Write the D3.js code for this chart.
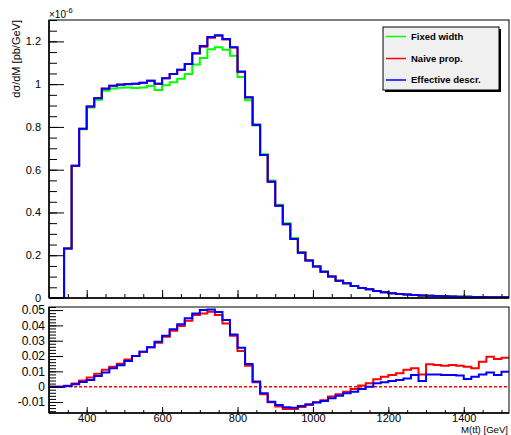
<!DOCTYPE html>
<html>
<head>
<meta charset="utf-8">
<script src="https://cdn.jsdelivr.net/npm/d3@7"></script>
<style>
  html, body { margin: 0; padding: 0; background: #fff; }
  svg { display: block; }
  text { font-family: "Liberation Sans", Arial, Helvetica, sans-serif; fill: #000; }
</style>
</head>
<body>
<svg id="chart" width="511" height="435"></svg>
<script>
// ---------- DATA ----------
const binStart = 300;
const binWidth = 20;           // GeV
// bin lower edges: 300, 320, ..., 1500 (61 bins)
const fixedWidth = [0,0,0.231,0.617,0.789,0.891,0.927,0.969,0.980,0.983,
  0.984,0.982,0.984,0.991,0.973,0.995,1.009,1.025,1.047,1.092,
  1.122,1.163,1.173,1.161,1.133,1.033,0.925,0.807,0.672,0.549,
  0.436,0.350,0.280,0.215,0.177,0.149,0.124,0.101,0.081,0.069,
  0.056,0.047,0.041,0.033,0.027,0.022,0.019,0.016,0.014,0.012,
  0.011,0.009,0.008,0.007,0.006,0.006,0.005,0.005,0.004,0.004,0.004];
const naiveProp = [0,0,0.231,0.619,0.792,0.896,0.935,0.980,0.993,0.998,
  1.001,1.002,1.007,1.016,1.002,1.028,1.047,1.067,1.094,1.143,
  1.175,1.217,1.226,1.209,1.171,1.057,0.938,0.810,0.669,0.544,
  0.431,0.345,0.276,0.212,0.175,0.147,0.123,0.100,0.081,0.069,
  0.056,0.047,0.041,0.033,0.027,0.022,0.019,0.016,0.014,0.012,
  0.011,0.009,0.008,0.007,0.006,0.006,0.005,0.005,0.004,0.004,0.004];
const effectiveDescr = [0,0,0.231,0.618,0.791,0.895,0.934,0.978,0.992,0.997,
  1.000,1.002,1.007,1.016,1.002,1.028,1.047,1.067,1.094,1.144,
  1.178,1.220,1.229,1.211,1.172,1.059,0.939,0.810,0.669,0.544,
  0.431,0.345,0.276,0.212,0.175,0.147,0.123,0.100,0.081,0.069,
  0.056,0.047,0.041,0.033,0.027,0.022,0.019,0.016,0.014,0.012,
  0.011,0.009,0.008,0.007,0.006,0.006,0.005,0.005,0.004,0.004,0.004];
// relative difference w.r.t. fixed width (lower panel)
const ratioNaive = [0,0,0.0006,0.002,0.004,0.006,0.0085,0.011,0.013,0.015,
  0.0178,0.020,0.0228,0.0257,0.0287,0.0326,0.0365,0.0396,0.043,0.0467,
  0.0478,0.0489,0.0467,0.0413,0.0333,0.0233,0.0137,0.0028,-0.005,-0.0102,
  -0.013,-0.0146,-0.0146,-0.0133,-0.012,-0.0102,-0.0089,-0.0065,-0.005,-0.0033,
  -0.0015,0.0007,0.0022,0.0048,0.0065,0.0076,0.0087,0.011,0.012,0.008,
  0.0146,0.0141,0.0137,0.0141,0.0137,0.013,0.012,0.0163,0.0196,0.018,0.0189];
const ratioEffective = [0,0,0.0004,0.0015,0.003,0.0043,0.007,0.0093,0.012,0.014,
  0.0167,0.020,0.0228,0.0257,0.0293,0.0333,0.0374,0.0407,0.0446,0.0478,
  0.050,0.0504,0.0487,0.0435,0.0341,0.0254,0.0148,0.0033,-0.0043,-0.0098,
  -0.012,-0.0135,-0.0137,-0.0126,-0.0115,-0.0104,-0.0093,-0.0076,-0.0059,-0.0043,
  -0.0033,-0.0015,0.0,0.0022,0.0028,0.0037,0.0043,0.0054,0.0076,0.0037,
  0.008,0.008,0.0076,0.0076,0.0072,0.005,0.0065,0.008,0.0093,0.0076,0.0098];

const seriesNames = ["Fixed width", "Naive prop.", "Effective descr."];
const seriesColors = ["#00ff00", "#ff0000", "#0000ff"];
const xTickMajor = [400, 600, 800, 1000, 1200, 1400];
const xTickLabels = ["400", "600", "800", "1000", "1200", "1400"];
const yTopTicks = [0, 0.2, 0.4, 0.6, 0.8, 1, 1.2];
const yTopLabels = ["0", "0.2", "0.4", "0.6", "0.8", "1", "1.2"];
const yBotTicks = [-0.01, 0, 0.01, 0.02, 0.03, 0.04, 0.05];
const yBotLabels = ["-0.01", "0", "0.01", "0.02", "0.03", "0.04", "0.05"];

// ---------- LAYOUT ----------
const svg = d3.select("#chart");
const L = 49, R = 509;
const topP = {t: 20, b: 298};
const botP = {t: 307, b: 413};

const x = d3.scaleLinear().domain([300, 1520]).range([L, R]);
const yTop = d3.scaleLinear().domain([0, 1.3]).range([topP.b, topP.t]);
const yBot = d3.scaleLinear().domain([-0.0172, 0.052]).range([botP.b, botP.t]);

function stepPoints(vals) {
  const pts = [];
  vals.forEach((v, i) => {
    const lo = binStart + i * binWidth, hi = lo + binWidth;
    pts.push([lo, v], [hi, v]);
  });
  return pts;
}

// clip paths
const defs = svg.append("defs");
defs.append("clipPath").attr("id", "clipTop").append("rect")
  .attr("x", L).attr("y", topP.t).attr("width", R - L).attr("height", topP.b - topP.t);
defs.append("clipPath").attr("id", "clipBot").append("rect")
  .attr("x", L).attr("y", botP.t).attr("width", R - L).attr("height", botP.b - botP.t);

// ---------- TOP PANEL ----------
const gTop = svg.append("g");
const lineTop = d3.line().x(d => x(d[0])).y(d => yTop(d[1]));
const topSeries = [fixedWidth, naiveProp, effectiveDescr];
const gTopLines = gTop.append("g").attr("clip-path", "url(#clipTop)");
topSeries.forEach((s, i) => {
  gTopLines.append("path").attr("d", lineTop(stepPoints(s)))
    .attr("fill", "none").attr("stroke", seriesColors[i]).attr("stroke-width", 2)
    .attr("stroke-linejoin", "miter");
});

// y axis top (inside ticks)
const yTopMinor = d3.range(0, 1.3001, 0.05).map(v => +v.toFixed(2));
gTop.append("g").attr("transform", `translate(${L},0)`)
  .call(d3.axisLeft(yTop).tickValues(yTopMinor).tickSize(-8).tickFormat(""))
  .call(g => g.select(".domain").remove());
gTop.append("g").attr("transform", `translate(${L},0)`)
  .call(d3.axisLeft(yTop).tickValues(yTopTicks).tickSize(-15).tickPadding(8)
    .tickFormat((d, i) => yTopLabels[i]))
  .call(g => g.select(".domain").remove())
  .call(g => g.selectAll("text").attr("font-size", 11).attr("font-family", null));

// x axis top (ticks only)
const xMinor = d3.range(300, 1521, 50);
gTop.append("g").attr("transform", `translate(0,${topP.b})`)
  .call(d3.axisBottom(x).tickValues(xMinor).tickSize(-4).tickFormat(""))
  .call(g => g.select(".domain").remove());
gTop.append("g").attr("transform", `translate(0,${topP.b})`)
  .call(d3.axisBottom(x).tickValues(xTickMajor).tickSize(-8).tickFormat(""))
  .call(g => g.select(".domain").remove());

gTop.append("rect").attr("x", L).attr("y", topP.t).attr("width", R - L).attr("height", topP.b - topP.t)
  .attr("fill", "none").attr("stroke", "#000").attr("stroke-width", 1);
gTop.append("line").attr("x1", L).attr("x2", L).attr("y1", topP.t).attr("y2", topP.b)
  .attr("stroke", "#000").attr("stroke-width", 1.5);
gTop.append("line").attr("x1", L).attr("x2", R).attr("y1", topP.b).attr("y2", topP.b)
  .attr("stroke", "#000").attr("stroke-width", 1.5);

// exponent
const expT = svg.append("text").attr("x", 49).attr("y", 18).attr("font-size", 10);
expT.append("tspan").text("×10");
expT.append("tspan").attr("dy", -5).attr("font-size", 7.5).text("-6");

// y title
svg.append("text").attr("transform", `translate(20,${topP.t}) rotate(-90)`)
  .attr("text-anchor", "end").attr("font-size", 11).text("dσ/dM [pb/GeV]");

// legend
const lg = svg.append("g");
const lgX = 383, lgY = 27, lgW = 116, lgH = 63;
lg.append("rect").attr("x", lgX + 2).attr("y", lgY + 2).attr("width", lgW).attr("height", lgH).attr("fill", "#000");
lg.append("rect").attr("x", lgX).attr("y", lgY).attr("width", lgW).attr("height", lgH)
  .attr("fill", "#f0f0f0").attr("stroke", "#000").attr("stroke-width", 1);
const lgYs = [36.5, 58.5, 80];
seriesNames.forEach((n, i) => {
  lg.append("line").attr("x1", 386).attr("x2", 406).attr("y1", lgYs[i]).attr("y2", lgYs[i])
    .attr("stroke", seriesColors[i]).attr("stroke-width", 1.5);
  lg.append("text").attr("x", 411).attr("y", lgYs[i]).attr("dy", "0.35em")
    .attr("font-size", 9.5).attr("font-weight", "bold").text(n);
});

// ---------- BOTTOM PANEL ----------
const gBot = svg.append("g");
gBot.append("line").attr("x1", L).attr("x2", R).attr("y1", yBot(0)).attr("y2", yBot(0))
  .attr("stroke", "#ff0000").attr("stroke-width", 1.5).attr("stroke-dasharray", "3,2");
const lineBot = d3.line().x(d => x(d[0])).y(d => yBot(d[1]));
const gBotLines = gBot.append("g").attr("clip-path", "url(#clipBot)");
[[ratioNaive, 1], [ratioEffective, 2]].forEach(([s, ci]) => {
  gBotLines.append("path").attr("d", lineBot(stepPoints(s)))
    .attr("fill", "none").attr("stroke", seriesColors[ci]).attr("stroke-width", 2);
});

const yBotMinor = d3.range(-0.016, 0.0521, 0.002).map(v => +v.toFixed(3));
gBot.append("g").attr("transform", `translate(${L},0)`)
  .call(d3.axisLeft(yBot).tickValues(yBotMinor).tickSize(-7).tickFormat(""))
  .call(g => g.select(".domain").remove());
gBot.append("g").attr("transform", `translate(${L},0)`)
  .call(d3.axisLeft(yBot).tickValues(yBotTicks).tickSize(-14).tickPadding(4)
    .tickFormat((d, i) => yBotLabels[i]))
  .call(g => g.select(".domain").remove())
  .call(g => g.selectAll("text").attr("font-size", 12).attr("font-family", null));

gBot.append("g").attr("transform", `translate(0,${botP.b})`)
  .call(d3.axisBottom(x).tickValues(xMinor).tickSize(-3).tickFormat(""))
  .call(g => g.select(".domain").remove());
gBot.append("g").attr("transform", `translate(0,${botP.b})`)
  .call(d3.axisBottom(x).tickValues(xTickMajor).tickSize(-6).tickPadding(1)
    .tickFormat((d, i) => xTickLabels[i]))
  .call(g => g.select(".domain").remove())
  .call(g => g.selectAll("text").attr("font-size", 11).attr("font-family", null));

gBot.append("rect").attr("x", L).attr("y", botP.t).attr("width", R - L).attr("height", botP.b - botP.t)
  .attr("fill", "none").attr("stroke", "#000").attr("stroke-width", 1);
gBot.append("line").attr("x1", L).attr("x2", L).attr("y1", botP.t).attr("y2", botP.b)
  .attr("stroke", "#000").attr("stroke-width", 1.5);
gBot.append("line").attr("x1", L).attr("x2", R).attr("y1", botP.b).attr("y2", botP.b)
  .attr("stroke", "#000").attr("stroke-width", 1.5);

svg.append("text").attr("x", 508).attr("y", 432.9).attr("text-anchor", "end")
  .attr("font-size", 9.6).text("M(tt\u0304) [GeV]");
</script>
</body>
</html>
